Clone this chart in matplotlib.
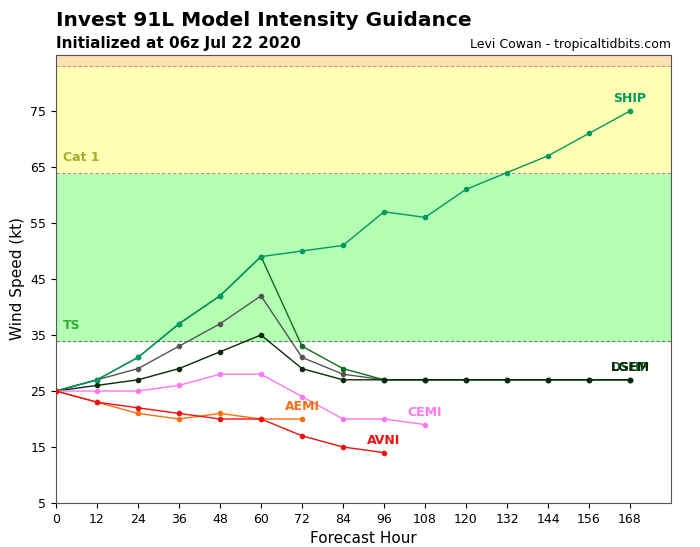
import matplotlib
matplotlib.use("Agg")
import matplotlib.pyplot as plt

# Forecast hours and model intensities (kt)
hours = [0, 12, 24, 36, 48, 60, 72, 84, 96, 108, 120, 132, 144, 156, 168]

ship = [25, 27, 31, 37, 42, 49, 50, 51, 57, 56, 61, 64, 67, 71, 75]
dshp = [25, 27, 31, 37, 42, 49, 33, 29, 27, 27, 27, 27, 27, 27, 27]
gray_model = [25, 27, 29, 33, 37, 42, 31, 28, 27, 27, 27, 27, 27, 27, 27]
lgem = [25, 26, 27, 29, 32, 35, 29, 27, 27, 27, 27, 27, 27, 27, 27]
cemi = [25, 25, 25, 26, 28, 28, 24, 20, 20, 19]
aemi = [25, 23, 21, 20, 21, 20, 20]
avni = [25, 23, 22, 21, 20, 20, 17, 15, 14]

models = [
    ("", gray_model, "#555555"),
    ("DSHP", dshp, "#0b6e1e"),
    ("LGEM", lgem, "#0a2a0a"),
    ("SHIP", ship, "#009960"),
    ("CEMI", cemi, "#ff77ee"),
    ("AEMI", aemi, "#ff6f0f"),
    ("AVNI", avni, "#f01010"),
]

fig = plt.figure(figsize=(7, 5.47), dpi=100)
ax = fig.add_axes([0.08, 0.0804, 0.8786, 0.8191])

# intensity category bands
ax.axhspan(0, 34, color="white", zorder=0)
ax.axhspan(34, 64, color="#b3ffb3", zorder=0)
ax.axhspan(64, 83, color="#ffffb3", zorder=0)
ax.axhspan(83, 100, color="#ffe0b3", zorder=0)
for lvl, c in [(34, "#777777"), (64, "#999999"), (83, "#aaaa66")]:
    ax.axhline(lvl, color=c, ls="--", lw=0.8, dashes=(3, 2), zorder=1)
ax.text(2, 36, "TS", color="#33aa33", fontsize=9, fontweight="bold")
ax.text(2, 66, "Cat 1", color="#aaaa33", fontsize=9, fontweight="bold")

for name, vals, col in models:
    x = hours[:len(vals)]
    ax.plot(x, vals, color=col, lw=1, marker="o", ms=3, zorder=3)
    if name:
        ax.text(x[-1], vals[-1] + 1, name, color=col, fontsize=9,
                fontweight="bold", ha="center", va="bottom", zorder=4)

ax.set_xlim(0, 180)
ax.set_ylim(5, 85)
ax.set_xticks(range(0, 169, 12))
ax.set_yticks(range(5, 80, 10))
ax.tick_params(labelsize=9)
for s in ax.spines.values():
    s.set_color("#555555")
ax.set_xlabel("Forecast Hour", fontsize=11)
ax.set_ylabel("Wind Speed (kt)", fontsize=11)

fig.text(0.08, 0.945, "Invest 91L Model Intensity Guidance", fontsize=14.5,
         fontweight="bold", ha="left", va="bottom")
fig.text(0.08, 0.907, "Initialized at 06z Jul 22 2020", fontsize=11,
         fontweight="bold", ha="left", va="bottom")
fig.text(0.9586, 0.907, "Levi Cowan - tropicaltidbits.com", fontsize=9,
         ha="right", va="bottom")

fig.savefig("out.png", dpi=100)
